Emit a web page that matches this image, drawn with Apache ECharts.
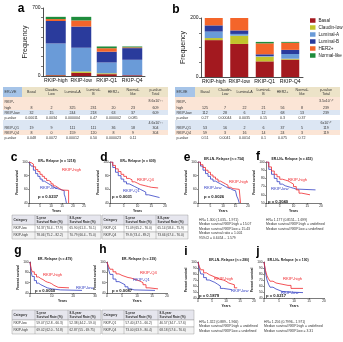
<!DOCTYPE html>
<html><head><meta charset="utf-8">
<script src="https://cdn.jsdelivr.net/npm/echarts@6/dist/echarts.min.js"></script>
<style>html,body{margin:0;padding:0;background:#fff}#chart{width:343px;height:342px}</style>
</head><body><div id="chart"></div>
<script>
// ---- subtype counts (order: RKIP-high, RKIP-low, RKIP-Q1, RKIP-Q4) ----
const groups = ['RKIP-high', 'RKIP-low', 'RKIP-Q1', 'RKIP-Q4'];
const subtypes = ['Basal', 'Claudin-low', 'Luminal-A', 'Luminal-B', 'HER2+', 'Normal-like'];
const subtypeColors = ['#a3191f', '#c2c42c', '#6a9bd8', '#2a3b9c', '#f4652a', '#1e8c3c'];

const erPosBasal = [8, 32, 19, 8];
const erPosClaudin = [2, 15, 9, 0];
const erPosLumA = [325, 244, 111, 159];
const erPosLumB = [231, 218, 111, 120];
const erPosHer2 = [20, 63, 36, 8];
const erPosNormal = [23, 37, 18, 9];

const erNegBasal = [125, 112, 53, 59];
const erNegClaudin = [7, 28, 16, 3];
const erNegLumA = [22, 6, 2, 16];
const erNegLumB = [21, 12, 6, 14];
const erNegHer2 = [56, 68, 37, 24];
const erNegNormal = [8, 13, 5, 3];

const erPosP_highLow = ['0.00011', '0.0034', '0.000004', '0.47', '0.000002', '0.085'];
const erPosP_q = ['0.048', '0.0072', '0.00012', '0.50', '0.000023', '0.11'];
const erPosTotalP = ['8.6x10\u207B\u00B9\u00B9', '4.6x10\u207B\u00B9\u00B9'];
const erNegP_highLow = ['0.27', '0.00044', '0.0035', '0.15', '0.3', '0.37'];
const erNegP_q = ['0.51', '0.0041', '0.0014', '0.1', '0.075', '0.72'];
const erNegTotalP = ['3.5x10\u207B\u00B9\u2070', '6x10\u207B\u00B9\u2070'];

// ---- Kaplan-Meier curves: [years, percent surviving] ----
const cHigh = [[0,100],[0.5,99],[1,97],[2,93],[3,89],[4,86],[5,82],[6,79],[7,76],[8,73],[9,71],[10,68],[11,65],[12,63],[13,61],[14,59],[15,58.5],[18,58.5],[18,40]];
const cLow = [[0,100],[0.5,97],[1,94],[2,88],[3,83],[4,79],[5,75],[6,72],[7,70],[8,68],[9,66],[10,64],[11,62],[12,61],[13,60],[14,59],[15,58],[16,53],[16.5,48],[17,40]];
const dQ4 = [[0,100],[1,95],[2,90],[3,86],[4,82],[5,79],[6,76],[7,74],[8,71],[9,69],[10,67],[11,66],[12,65],[13,64],[14,63],[15,62],[17.5,62]];
const dQ1 = [[0,100],[1,92],[2,85],[3,80],[4,75],[5,71],[6,68],[7,66],[8,64],[9,62],[10,60],[11,58],[12,56],[13,52],[14,50],[16,48],[18,48]];
const eHigh = [[0,100],[1,96],[2,92],[3,88],[4,85],[5,81],[6,78],[7,75],[8,72],[9,70],[10,68],[11,66],[12,63],[13,61],[14,60],[16.5,60],[17,40]];
const eLow = [[0,100],[1,94],[2,88],[3,83],[4,79],[5,75],[6,72],[7,70],[8,68],[9,66],[10,64],[11,62],[12,61],[13,59],[14,58],[15,56],[15.5,50],[16,46],[16.5,40]];
const fHigh = [[0,100],[1,94],[2,89],[3,85],[4,82],[5,79],[6,78],[7,77],[8,75],[9,73],[10,70],[11,66],[12,62],[13,60],[16,60]];
const fLow = [[0,100],[1,91],[2,85],[3,80],[4,76],[5,73],[6,71],[7,70],[8,69],[9,68],[10,67],[11,66],[18,66]];
const gHigh = [[0,100],[0.5,88],[1,81],[2,76],[3,71],[4,68],[5,66],[6,63],[7,61],[8,60],[9,58],[10,55],[11,53],[12,51],[13,50],[18,50]];
const gLow = [[0,100],[0.5,82],[1,72],[2,64],[3,59],[4,56],[5,54],[6,52],[7,50],[8,49],[9,48],[10,47],[12,46],[14,45],[24,45]];
const hQ4 = [[0,100],[0.5,92],[1,86],[2,81],[3,77],[4,74],[5,72],[6,70],[7,69],[8,67],[9,65],[10,63],[11,60],[12,56],[13,50],[14,48],[17,48]];
const hQ1 = [[0,100],[0.5,86],[1,76],[2,67],[3,62],[4,59],[5,56],[6,52],[7,48],[8,46],[9,45],[16,45]];
const iHigh = [[0,100],[0.5,92],[1,87],[2,82],[3,79],[4,77],[5,75],[6,73],[7,71],[8,70],[9,68],[10,65],[11,62],[13,57],[14,57]];
const iLow = [[0,100],[0.5,88],[1,80],[2,74],[3,70],[4,68],[5,66],[6,63],[7,60],[8,56],[9,54],[12,54]];
const jHigh = [[0,100],[0.5,86],[1,77],[1.5,72],[2,68],[3,65],[4,64],[5,63],[6,61],[8,61],[9,56],[13,56]];
const jLow = [[0,100],[0.5,82],[1,70],[1.5,63],[2,58],[3,55],[4,53],[5,51],[6,50],[8,49],[13,49]];

// ---- survival-rate tables ----
const rateHeader = ['Category', '5-year\nSurvival Rate (%)', '8.8-year\nSurvival Rate (%)'];
const rateC = [['RKIP-low', '74.37 (70.4 - 77.9)', '65.90 (61.3 - 70.1)'], ['RKIP-high', '78.06 (75.2 - 82.2)', '70.79 (66.4 - 75.0)']];
const rateD = [['RKIP-Q1', '71.09 (65.2 - 76.0)', '65.14 (58.4 - 75.9)'], ['RKIP-Q4', '79.8 (74.4 - 89.2)', '73.66 (67.4 - 76.0)']];
const rateG = [['RKIP-low', '59.07 (52.8 - 66.3)', '52.38 (44.2 - 59.0)'], ['RKIP-high', '69.02 (62.0 - 74.8)', '62.87 (55 - 69.75)']];
const rateH = [['RKIP-Q1', '57.40 (47.5 - 66.2)', '46.57 (34.7 - 57.6)'], ['RKIP-Q4', '73.00 (63.9 - 80.4)', '68.18 (57.6 - 76.6)']];

const hrE = ['HR= 1.300 (1.035\u2013 1.971)', 'Median survival RKIP-high = 15.07', 'Median survival RKIP-low = 15.43', 'Median survival ratio = 1.001', '95%CI = 0.6454 \u2013 1.579'];
const hrF = ['HR= 1.177 (0.8151\u2013 1.699)', 'Median survival RKIP-high = undefined', 'Median survival RKIP-low = undefined'];
const hrI = ['HR= 1.322 (0.889\u2013 1.966)', 'Median survival RKIP-high = undefined', 'Median survival RKIP-low = undefined'];
const hrJ = ['HR= 1.256 (0.7996\u2013 1.971)', 'Median survival RKIP-high = undefined', 'Median survival RKIP-low = 3.31'];

const FONT = 'Liberation Sans, Arial, sans-serif';
const RED = '#f0282d', BLUE = '#3340c4';

const grids = [], xAxes = [], yAxes = [], series = [], graphic = [];

function txt(x, y, text, size, opt) {
  opt = opt || {};
  graphic.push({
    type: 'text', x: x, y: y, z: opt.z || 10, silent: true,
    style: {
      text: text, fill: opt.color || '#111',
      font: (opt.bold ? 'bold ' : '') + size + 'px ' + FONT,
      align: opt.align || 'left', textAlign: opt.align || 'left',
      verticalAlign: 'middle', textVerticalAlign: 'middle',
      lineHeight: opt.lineHeight || size * 1.1
    }
  });
}
function rect(x, y, w, h, fill, stroke, lw) {
  graphic.push({ type: 'rect', z: 5, silent: true, shape: { x: x, y: y, width: w, height: h },
    style: { fill: fill, stroke: stroke || null, lineWidth: lw || 0 } });
}

// ---- stacked bar panels ----
function barPanel(box, ymax, yInt, barW, cols) {
  const gi = grids.length;
  grids.push({ left: box[0], top: box[1], width: box[2], height: box[3] });
  xAxes.push({ gridIndex: gi, type: 'category', data: groups,
    axisLine: { lineStyle: { color: '#222', width: 0.8 } }, axisTick: { show: false },
    axisLabel: { fontSize: 5.2, color: '#111', margin: 2.5, fontFamily: FONT, interval: 0 } });
  yAxes.push({ gridIndex: gi, type: 'value', min: 0, max: ymax, interval: yInt,
    name: 'Frequency', nameLocation: 'middle', nameRotate: 90, nameGap: 11,
    nameTextStyle: { fontSize: 7, color: '#222', fontFamily: FONT },
    axisLine: { show: true, lineStyle: { color: '#222', width: 0.8 } },
    axisTick: { show: true, length: 2, lineStyle: { color: '#222', width: 0.6 } },
    splitLine: { show: false },
    axisLabel: { fontSize: 5, color: '#111', margin: 2.5, fontFamily: FONT,
      formatter: v => (v === 0 || v === ymax) ? String(v) : '' } });
  cols.forEach((vals, k) => {
    series.push({ type: 'bar', name: subtypes[k], xAxisIndex: gi, yAxisIndex: gi, stack: 'p' + gi,
      data: vals, barWidth: barW, itemStyle: { color: subtypeColors[k] }, clip: true, animation: false });
  });
}
barPanel([43, 8, 102, 68], 700, 100, 20, [erPosBasal, erPosClaudin, erPosLumA, erPosLumB, erPosHer2, erPosNormal]);
barPanel([201, 18, 102, 59], 200, 50, 18, [erNegBasal, erNegClaudin, erNegLumA, erNegLumB, erNegHer2, erNegNormal]);

// ---- subtype tables ----
function subtypeTable(bounds, label, cols, pHL, pQ, totalP) {
  const hdr = [label, 'Basal', 'Claudin-\nLow', 'Luminal-A', 'Luminal-\nB', 'HER2+', 'Normal-\nlike', 'p-value\nTotal'];
  const W = bounds[bounds.length - 1] - bounds[0];
  const cx = i => (bounds[i] + bounds[i + 1]) / 2;
  rect(bounds[0], 87, W, 10, '#ece3c8');
  rect(bounds[0], 87, bounds[1] - bounds[0], 10, '#a6c4e8');
  rect(bounds[0], 97, W, 13, '#fbe5d6');
  rect(bounds[0], 110, W, 5, '#dce6f3');
  rect(bounds[0], 120, W, 10, '#dce6f3');
  rect(bounds[0], 130, W, 5, '#fbe5d6');
  hdr.forEach((h, i) => txt(i === 0 ? bounds[0] + 1.5 : cx(i), 92, h, 3.6, { align: i === 0 ? 'left' : 'center', color: '#333' }));
  const totals = [0, 1, 2, 3].map(g => cols.reduce((s, c) => s + c[g], 0));
  const row = (y, name, g) => {
    txt(bounds[0] + 1.5, y, name, 3.6, { color: '#333' });
    cols.forEach((c, k) => txt(cx(k + 1), y, String(c[g]), 3.6, { align: 'center', color: '#333' }));
    txt(cx(7), y, String(totals[g]), 3.6, { align: 'center', color: '#333' });
  };
  txt(bounds[0] + 1.5, 102, 'RKIP-', 3.6, { color: '#333' });
  txt(cx(7), 101, totalP[0], 3.6, { align: 'center', color: '#333' });
  row(107.5, 'high', 0);
  row(112.5, 'RKIP-low', 1);
  txt(bounds[0] + 1.5, 117.5, 'p-value', 3.6, { color: '#333' });
  pHL.forEach((p, k) => txt(cx(k + 1), 117.5, p, 3.6, { align: 'center', color: '#333' }));
  txt(cx(7), 122.5, totalP[1], 3.6, { align: 'center', color: '#333' });
  row(127.5, 'RKIP-Q1', 2);
  row(132.5, 'RKIP-Q4', 3);
  txt(bounds[0] + 1.5, 137.5, 'p-value', 3.6, { color: '#333' });
  pQ.forEach((p, k) => txt(cx(k + 1), 137.5, p, 3.6, { align: 'center', color: '#333' }));
}
subtypeTable([3, 22, 41, 62, 83, 104, 123, 143, 168], 'ER+VE',
  [erPosBasal, erPosClaudin, erPosLumA, erPosLumB, erPosHer2, erPosNormal], erPosP_highLow, erPosP_q, erPosTotalP);
subtypeTable([175, 195, 215, 235, 254, 273, 292, 312, 340], 'ER-VE',
  [erNegBasal, erNegClaudin, erNegLumA, erNegLumB, erNegHer2, erNegNormal], erNegP_highLow, erNegP_q, erNegTotalP);

// ---- Kaplan-Meier panels ----
function kmPanel(box, xmax, xInt, ymin, yInt, red, blue, names) {
  const gi = grids.length;
  grids.push({ left: box[0], top: box[1], width: box[2], height: box[3] });
  xAxes.push({ gridIndex: gi, type: 'value', min: 0, max: xmax, interval: xInt,
    name: 'Years', nameLocation: 'middle', nameGap: 6.5,
    nameTextStyle: { fontSize: 3.4, fontWeight: 'bold', color: '#222', fontFamily: FONT },
    axisLine: { lineStyle: { color: '#222', width: 0.6 } },
    axisTick: { length: 1.2, lineStyle: { width: 0.5 } }, splitLine: { show: false },
    axisLabel: { fontSize: 3.2, color: '#222', margin: 1.5, fontFamily: FONT } });
  yAxes.push({ gridIndex: gi, type: 'value', min: ymin, max: 100, interval: yInt,
    name: 'Percent survival', nameLocation: 'middle', nameRotate: 90, nameGap: 8,
    nameTextStyle: { fontSize: 3.2, fontWeight: 'bold', color: '#222', fontFamily: FONT },
    axisLine: { show: true, lineStyle: { color: '#222', width: 0.6 } },
    axisTick: { show: true, length: 1.2, lineStyle: { width: 0.5 } }, splitLine: { show: false },
    axisLabel: { fontSize: 3.2, color: '#222', margin: 1.5, fontFamily: FONT } });
  [[blue, BLUE, names[1]], [red, RED, names[0]]].forEach(([d, col, nm]) => {
    series.push({ type: 'line', name: nm, xAxisIndex: gi, yAxisIndex: gi, data: d, step: 'end',
      showSymbol: false, animation: false, lineStyle: { width: 0.8, color: col }, itemStyle: { color: col } });
  });
}
kmPanel([29, 162, 55, 41], 25, 5, 40, 20, cHigh, cLow, ['RKIP-high', 'RKIP-low']);
kmPanel([110, 162, 55, 41], 20, 5, 40, 20, dQ4, dQ1, ['RKIP-Q4', 'RKIP-Q1']);
kmPanel([198, 162, 50, 41], 20, 5, 40, 20, eHigh, eLow, ['RKIP-high', 'RKIP-low']);
kmPanel([266, 162, 55, 41], 20, 5, 50, 10, fHigh, fLow, ['RKIP-high', 'RKIP-low']);
kmPanel([30, 262, 65, 31], 30, 10, 40, 20, gHigh, gLow, ['RKIP-high', 'RKIP-low']);
kmPanel([107, 262, 60, 31], 20, 5, 40, 20, hQ4, hQ1, ['RKIP-Q4', 'RKIP-Q1']);
kmPanel([198, 262, 56, 36], 20, 5, 40, 10, iHigh, iLow, ['RKIP-high', 'RKIP-low']);
kmPanel([264, 262, 60, 36], 20, 5, 40, 10, jHigh, jLow, ['RKIP-high', 'RKIP-low']);

// panel letters
[['a', 21, 9], ['b', 176, 10], ['c', 14, 158], ['d', 104, 158], ['e', 187, 158], ['f', 258, 157],
 ['g', 18, 251], ['h', 103, 250], ['i', 186, 252], ['j', 258, 252]].forEach(([t, x, y]) =>
  txt(x, y, t, 12, { bold: true, align: 'center', color: '#000' }));

// KM titles, curve labels, p-values
const kmText = [
  [57, 161, 'ER+ Relapse (n = 1218)', 62, 170, 'RKIP-high', 40, 188, 'RKIP-low', 38, 197, 'p = 0.0237'],
  [138, 161, 'ER+ Relapse (n = 609)', 137, 180, 'RKIP-Q4', 123, 191, 'RKIP-Q1', 112, 197, 'p = 0.0031'],
  [224, 159, 'ER-LN- Relapse (n = 754)', 229, 181.5, 'RKIP-high', 204, 188, 'RKIP-low', 204, 197, 'p = 0.0026'],
  [292, 159, 'ER-LN+ Relapse (n = 453)', 288, 180, 'RKIP-high', 271, 189, 'RKIP-low', 268, 202, 'p = 0.3040'],
  [55, 259, 'ER- Relapse (n = 479)', 43, 275, 'RKIP-high', 76, 288, 'RKIP-low', 35, 291, 'p = 0.0050'],
  [139, 259, 'ER- Relapse (n = 239)', 140, 273, 'RKIP-Q4', 133, 280, 'RKIP-Q1', 112, 291, 'p = 0.0087'],
  [229, 260, 'ER-LN- Relapse (n = 280)', 214, 279, 'RKIP-high', 231, 291, 'RKIP-low', 199, 296, 'p = 0.1879'],
  [288, 260, 'ER-LN+ Relapse (n = 190)', 283, 279, 'RKIP-high', 281, 293, 'RKIP-low', 266, 296, 'p = 0.0217']
];
kmText.forEach(r => {
  txt(r[0], r[1], r[2], 3.4, { bold: true, align: 'center', color: '#222' });
  txt(r[3], r[4], r[5], 4.2, { color: RED });
  txt(r[6], r[7], r[8], 4.2, { color: BLUE });
  txt(r[9], r[10], r[11], 4.2, { bold: true, color: '#111' });
});

// survival-rate tables
function rateTable(x0, y0, widths, rows) {
  const W = widths.reduce((a, b) => a + b, 0);
  rect(x0, y0, W, 10, '#e6e6ee', '#888', 0.4);
  rect(x0, y0 + 10, W, 7, '#ffffff', '#888', 0.4);
  rect(x0, y0 + 17, W, 7, '#f2f2f2', '#888', 0.4);
  let x = x0;
  widths.forEach((w, i) => {
    txt(x + 1.5, y0 + 5, rateHeader[i], 3.2, { bold: true, color: '#333', lineHeight: 3.8 });
    rows.forEach((r, k) => txt(x + 1.5, y0 + 13.5 + 7 * k, r[i], 3.2, { color: '#333' }));
    if (i > 0) graphic.push({ type: 'line', z: 6, silent: true, shape: { x1: x, y1: y0, x2: x, y2: y0 + 24 }, style: { stroke: '#888', lineWidth: 0.4 } });
    x += w;
  });
}
rateTable(12, 215, [23, 33, 33], rateC);
rateTable(102, 215, [22, 32, 32], rateD);
rateTable(12, 310, [23, 33, 33], rateG);
rateTable(102, 310, [22, 34, 36], rateH);

// hazard-ratio notes
[[199, 220, hrE], [266, 220, hrF], [199, 322, hrI], [264, 322, hrJ]].forEach(([x, y, lines]) =>
  lines.forEach((l, k) => txt(x, y + 4.5 * k, l, 3.4, { color: '#333' })));

const chart = echarts.init(document.getElementById('chart'), null, { renderer: 'canvas' });
chart.setOption({
  animation: false,
  backgroundColor: '#fff',
  textStyle: { fontFamily: FONT },
  legend: { data: subtypes, orient: 'vertical', left: 305, top: 13, itemWidth: 5.5, itemHeight: 4.5,
    itemGap: 2, icon: 'rect', textStyle: { fontSize: 4.6, color: '#222', padding: [0, 0, 0, -2] }, selectedMode: false },
  grid: grids, xAxis: xAxes, yAxis: yAxes, series: series, graphic: graphic
});
</script></body></html>
